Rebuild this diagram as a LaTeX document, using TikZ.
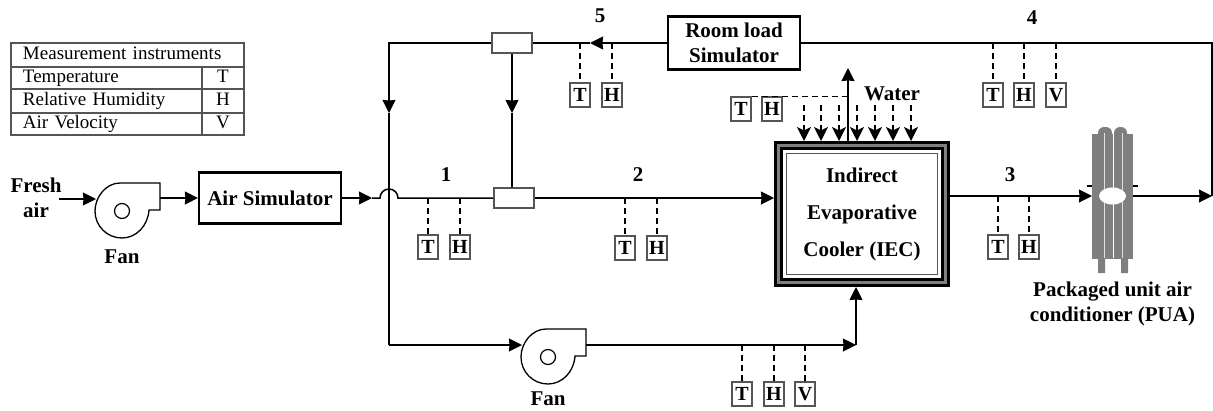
\documentclass[tikz,border=0pt]{standalone}
\usepackage{xcolor}
\usepackage{fontspec}
\setmainfont{Liberation Serif}
\usetikzlibrary{shapes.geometric, arrows.meta, positioning}

\definecolor{rulegray}{HTML}{555555}
\definecolor{coilgray}{HTML}{7F7F7F}

\begin{document}
\begin{tikzpicture}[
    x=1pt, y=1pt,
    auto,
    tag/.style={font=\fontsize{21}{25}\selectfont\bfseries, align=center, inner sep=0pt},
    block/.style={rectangle, draw, line width=2.2pt, align=center, inner sep=0pt, font=\fontsize{21}{25}\selectfont\bfseries},
    cell/.style={rectangle, draw=rulegray, line width=1.2pt, align=left, inner xsep=12pt, inner ysep=0pt, outer sep=0pt, text height=12pt, text depth=4pt, font=\fontsize{19}{20}\selectfont},
    probe/.style={rectangle, draw=rulegray, line width=1.3pt, inner sep=0pt, minimum width=20pt, minimum height=24pt, font=\fontsize{20}{22}\selectfont\bfseries},
    mixer/.style={rectangle, draw=rulegray, line width=1.8pt, fill=white, minimum width=40pt, minimum height=20pt},
    band/.style={rectangle, inner sep=0pt, outer sep=0pt},
    pipe/.style={line width=1.5pt},
    arrow/.style={pipe, -{Stealth[length=13pt, width=13pt, inset=0.5pt]}},
    sense/.style={line width=1.2pt, dash pattern=on 6pt off 4pt},
    spray/.style={sense, -{Stealth[length=14pt, width=14pt, inset=3.5pt]}},
    fan/.pic={
        \node [circle, draw, line width=1.2pt, minimum size=15pt, inner sep=0pt] (-hub) {};
        \draw [line width=1.3pt] (-2,28) -- (38,28) -- (38,1) -- (27,1) .. controls (26,-15) and (14,-27) .. (0,-27) .. controls (-15,-27) and (-27,-15) .. (-27,0) .. controls (-27,14) and (-16,28) .. (-2,28);
        \coordinate (-in) at (-26,12);
        \coordinate (-out) at (38,13);
    }
]
    \useasboundingbox (0,0) rectangle (1213,-410);

    % Instruments table
    \node [cell, text width=209pt, minimum height=24pt] (tabhead) at (127.5,-55) {Measurement instruments};
    \node [cell, text width=167pt, minimum height=22pt] (rowt) at (106.5,-78) {Temperature};
    \node [cell, text width=167pt, minimum height=24pt, below of=rowt, node distance=23pt] (rowh) {Relative Humidity};
    \node [cell, text width=167pt, minimum height=22pt, below of=rowh, node distance=23pt] (rowv) {Air Velocity};
    \node [cell, text width=18pt, align=center, minimum height=22pt, right of=rowt, node distance=116.5pt] (symt) {T};
    \node [cell, text width=18pt, align=center, minimum height=24pt, right of=rowh, node distance=116.5pt] (symh) {H};
    \node [cell, text width=18pt, align=center, minimum height=22pt, right of=rowv, node distance=116.5pt] (symv) {V};

    % Main blocks
    \node [tag] (fresh) at (36,-198) {Fresh\\air};
    \pic (fana) at (122,-211) {fan};
    \node [tag, below of=fana-hub, node distance=46pt] (fanatext) {Fan};
    \node [block, minimum width=142pt, minimum height=51pt] (airsim) at (270,-198) {Air Simulator};
    \node [mixer, right of=airsim, node distance=244pt] (mixb) {};
    \node [mixer] (mixa) at (512,-43) {};
    \node [block, minimum width=132pt, minimum height=53pt] (roomload) at (734,-43) {Room load\\Simulator};
    \pic (fanb) at (548,-357) {fan};
    \node [tag, below of=fanb-hub, node distance=42pt] (fanbtext) {Fan};

    % Cooler frame
    \node [band, fill=black, minimum width=176pt, minimum height=146pt] (iec) at (862,-214) {};
    \node [band, fill=coilgray, minimum width=170pt, minimum height=140pt] (iecb) at (iec) {};
    \node [band, fill=black, minimum width=164pt, minimum height=134pt] (iecc) at (iec) {};
    \node [band, fill=white, minimum width=158pt, minimum height=128pt] (iecd) at (iec) {};
    \node [band, draw=rulegray, line width=1.5pt, fill=white, minimum width=151pt, minimum height=121pt, align=center, font=\fontsize{21}{37}\selectfont\bfseries] (iectext) at (iec) {Indirect\\Evaporative\\Cooler (IEC)};

    % Packaged unit
    \draw [line width=1.5pt] (1087,-186) -- (1138,-186);
    \fill [coilgray] (1098,-258) rectangle (1105,-273) (1121,-258) rectangle (1128,-273);
    \fill [coilgray, rounded corners=6pt] (1098,-127) rectangle (1112,-145) (1114,-127) rectangle (1127,-145);
    \node [band, fill=coilgray, minimum width=41pt, minimum height=125pt] (pua) at (1112.5,-196) {};
    \draw [white, line width=1pt] (1113,-133) -- (1113,-258);
    \draw [white!75!coilgray, line width=0.8pt] (1104,-133) -- (1104,-258) (1122,-133) -- (1122,-258);
    \node [ellipse, fill=white, inner sep=0pt, minimum width=27pt, minimum height=17pt] (coil) at (pua) {};
    \node [tag, below of=pua, node distance=108pt] (puatext) {Packaged unit air\\conditioner (PUA)};

    % Section numbers
    \node [tag] (numa) at (446,-175) {1};
    \node [tag] (numb) at (638,-175) {2};
    \node [tag] (numc) at (1010,-175) {3};
    \node [tag] (numd) at (1032,-18) {4};
    \node [tag] (nume) at (600,-16) {5};
    \node [tag] (water) at (892,-94) {Water};

    % Points on the pipes
    \coordinate (freshin) at (59,-199);
    \coordinate (humpa) at (372,-198);
    \coordinate (cornerl) at (389,-43);
    \coordinate (tipl) at (389,-113);
    \coordinate (cornerk) at (389,-345);
    \coordinate (tipm) at (512,-113);
    \coordinate (tipe) at (590,-43);
    \coordinate (cornerb) at (856,-345);
    \coordinate (exhaust) at (848,-68);
    \coordinate (cornerr) at (1212,-196);

    % Tapping points
    \coordinate (tapa) at (428,-198);
    \coordinate (tapah) at (460,-198);
    \coordinate (tapb) at (625,-198);
    \coordinate (tapbh) at (657,-198);
    \coordinate (tapc) at (998,-196);
    \coordinate (tapch) at (1029,-196);
    \coordinate (tapd) at (993,-43);
    \coordinate (tapdh) at (1024,-43);
    \coordinate (tapdv) at (1056,-43);
    \coordinate (tape) at (580,-43);
    \coordinate (tapeh) at (612,-43);
    \coordinate (tapf) at (742,-345);
    \coordinate (tapfh) at (774,-345);
    \coordinate (tapfv) at (805,-345);

    % Probes
    \node [probe, below of=tapa, node distance=49pt] (ta) {T};
    \node [probe, below of=tapah, node distance=49pt] (ha) {H};
    \node [probe, below of=tapb, node distance=50pt] (tb) {T};
    \node [probe, below of=tapbh, node distance=50pt] (hb) {H};
    \node [probe, below of=tapc, node distance=51pt] (tc) {T};
    \node [probe, below of=tapch, node distance=51pt] (hc) {H};
    \node [probe, below of=tapd, node distance=52pt] (td) {T};
    \node [probe, below of=tapdh, node distance=52pt] (hd) {H};
    \node [probe, below of=tapdv, node distance=52pt] (vd) {V};
    \node [probe, below of=tape, node distance=52pt] (te) {T};
    \node [probe, below of=tapeh, node distance=52pt] (he) {H};
    \node [probe, below of=tapf, node distance=49pt] (tf) {T};
    \node [probe, below of=tapfh, node distance=49pt] (hf) {H};
    \node [probe, below of=tapfv, node distance=49pt] (vf) {V};
    \node [probe] (tw) at (741,-109) {T};
    \node [probe, right of=tw, node distance=31pt] (hw) {H};

    % Water sprays
    \coordinate (spraya) at (804,-105);
    \coordinate (sprayb) at (821,-105);
    \coordinate (sprayc) at (839,-105);
    \coordinate (sprayd) at (857,-105);
    \coordinate (spraye) at (875,-105);
    \coordinate (sprayf) at (893,-105);
    \coordinate (sprayg) at (911,-105);

    % Arrows
    \draw [arrow] (freshin) -- (fana-in);
    \draw [arrow] (fana-out) -- (fana-out -| airsim.west);
    \draw [arrow] (airsim) -- (humpa);
    \draw [pipe] (humpa) -- ++(8,0) arc[start angle=180, end angle=0, radius=9] -- (mixb);
    \draw [arrow] (mixb) -- (mixb -| iec.west);
    \draw [arrow] (mixa) -- (tipm);
    \draw [pipe] (tipm) -- (tipm |- mixb.north);
    \draw [arrow] (roomload) -- (tipe);
    \draw [pipe] (tipe) -- (mixa);
    \draw [arrow] (mixa) -- (cornerl) -- (tipl);
    \draw [pipe] (tipl) -- (cornerk);
    \draw [arrow] (cornerk) -- (fanb-in);
    \draw [arrow] (fanb-out |- cornerb) -- (cornerb);
    \draw [arrow] (cornerb) -- (cornerb |- iec.south);
    \draw [arrow] (iec.north -| exhaust) -- (exhaust);
    \draw [arrow] (iec.east |- pua) -- (pua.west);
    \draw [arrow] (pua.east) -- (cornerr);
    \draw [pipe] (roomload) -- (cornerr |- roomload) -- (cornerr);

    % Dashed lines
    \draw [sense] (tapa) -- (ta);
    \draw [sense] (tapah) -- (ha);
    \draw [sense] (tapb) -- (tb);
    \draw [sense] (tapbh) -- (hb);
    \draw [sense] (tapc) -- (tc);
    \draw [sense] (tapch) -- (hc);
    \draw [sense] (tapd) -- (td);
    \draw [sense] (tapdh) -- (hd);
    \draw [sense] (tapdv) -- (vd);
    \draw [sense] (tape) -- (te);
    \draw [sense] (tapeh) -- (he);
    \draw [sense] (tapf) -- (tf);
    \draw [sense] (tapfh) -- (hf);
    \draw [sense] (tapfv) -- (vf);
    \draw [sense] (tw.north east -| exhaust) -- (tw.north east);
    \draw [spray] (spraya) -- (spraya |- iec.north);
    \draw [spray] (sprayb) -- (sprayb |- iec.north);
    \draw [spray] (sprayc) -- (sprayc |- iec.north);
    \draw [spray] (sprayd) -- (sprayd |- iec.north);
    \draw [spray] (spraye) -- (spraye |- iec.north);
    \draw [spray] (sprayf) -- (sprayf |- iec.north);
    \draw [spray] (sprayg) -- (sprayg |- iec.north);

\end{tikzpicture}
\end{document}
